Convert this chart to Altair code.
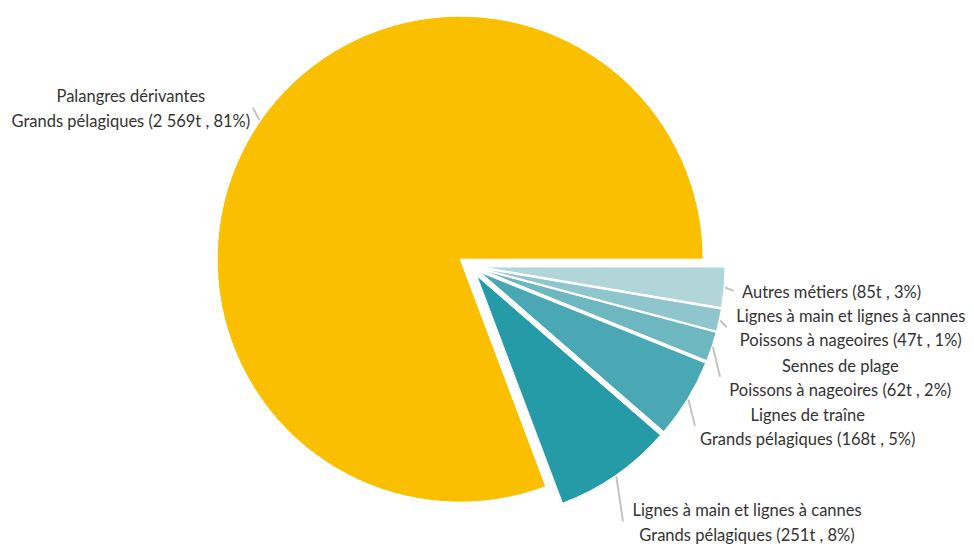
import math
import altair as alt
import pandas as pd

# ---- data ----
metiers = ["Autres métiers", "Lignes à main et lignes à cannes", "Sennes de plage",
           "Lignes de traîne", "Lignes à main et lignes à cannes", "Palangres dérivantes"]
especes = ["", "Poissons à nageoires", "Poissons à nageoires",
           "Grands pélagiques", "Grands pélagiques", "Grands pélagiques"]
tonnes = [85, 47, 62, 168, 251, 2569]
pourcent = [3, 1, 2, 5, 8, 81]

# ---- style / layout ----
colors = ["#b2d5da", "#8fc5cc", "#6cb7c0", "#4aa8b4", "#259ba7", "#fac000"]
W, H = 958, 536
CX, CY = 462, 258       # pie centre (plot coords)
R = 243                 # outer radius
EXPLODE = 12            # slice offset
# leader-line end points, polar around the pie centre (deg clockwise from east)
label_r = [265, 264, 273.5, 276, 298, 268.7]
label_ang = [5.4, 13.4, 23.9, 35.4, 59.1, 216.1]
side = [1, 1, 1, 1, 1, -1]
FONT_SIZE = 16.5
LINE_H = 24.5
CHAR_W = 7.5
TEXT_DY = 2


def fmt_t(v):
    s = f"{v:,}".replace(",", " ")
    return f"{s}t"


labels, widths, nlines = [], [], []
for m, e, t, p in zip(metiers, especes, tonnes, pourcent):
    tail = f"({fmt_t(t)} , {p}%)"
    if e:
        lines = [m, f"{e} {tail}"]
    else:
        lines = [f"{m} {tail}"]
    labels.append("\n".join(lines))
    widths.append(max(len(l) for l in lines) * CHAR_W)
    nlines.append(len(lines))

df = pd.DataFrame({
    "key": [f"{i}-{m}" for i, m in enumerate(metiers)],
    "idx": list(range(len(tonnes))),
    "tonnes": tonnes,
    "label": labels,
    "tw": widths,
    "nl": nlines,
    "lr": label_r,
    "la": label_ang,
    "side": side,
})
total = sum(tonnes)

base = alt.Chart(df).transform_window(
    cum="sum(tonnes)", sort=[alt.SortField("idx")], frame=[None, 0]
).transform_calculate(
    start="datum.cum - datum.tonnes",
    end="datum.cum",
    mid=f"PI/2 + 2*PI*(datum.cum - datum.tonnes/2)/{total}",
).transform_calculate(
    cx=f"{CX} + {EXPLODE}*sin(datum.mid)",
    cy=f"{CY} - {EXPLODE}*cos(datum.mid)",
    lx1=f"{CX} + {R + EXPLODE + 1}*sin(datum.mid)",
    ly1=f"{CY} - {R + EXPLODE + 1}*cos(datum.mid)",
    lx2=f"{CX} + datum.lr*cos(datum.la*PI/180)",
    ly2=f"{CY} + datum.lr*sin(datum.la*PI/180)",
).transform_calculate(
    tx="datum.side > 0 ? datum.lx2 + 4 + datum.tw/2 : datum.lx2 - 2 - datum.tw/2",
    ty=f"datum.ly2 - (datum.nl - 1)*{LINE_H}/2 + {TEXT_DY}",
)

theta_scale = alt.Scale(domain=[0, total], range=[math.pi / 2, math.pi / 2 + 2 * math.pi])

arcs = base.mark_arc(radius=R, stroke="white", strokeWidth=1).encode(
    x=alt.X("cx:Q", scale=None),
    y=alt.Y("cy:Q", scale=None),
    theta=alt.Theta("start:Q", scale=theta_scale),
    theta2="end:Q",
    color=alt.Color("key:N", scale=alt.Scale(domain=list(df["key"]), range=colors), legend=None),
)

leaders = base.mark_rule(color="#c4c4c4", strokeWidth=2).encode(
    x=alt.X("lx1:Q", scale=None),
    y=alt.Y("ly1:Q", scale=None),
    x2="lx2:Q",
    y2="ly2:Q",
)

texts = base.mark_text(
    align="center", baseline="middle", lineBreak="\n", lineHeight=LINE_H,
    font="Lato", fontSize=FONT_SIZE, color="#333333",
).encode(
    x=alt.X("tx:Q", scale=None),
    y=alt.Y("ty:Q", scale=None),
    text="label:N",
)

chart = alt.layer(arcs, leaders, texts).properties(
    width=W, height=H, padding=0, autosize="none"
).configure_view(stroke=None)

chart.save("out.html", embed_options={"renderer": "svg", "actions": False})
